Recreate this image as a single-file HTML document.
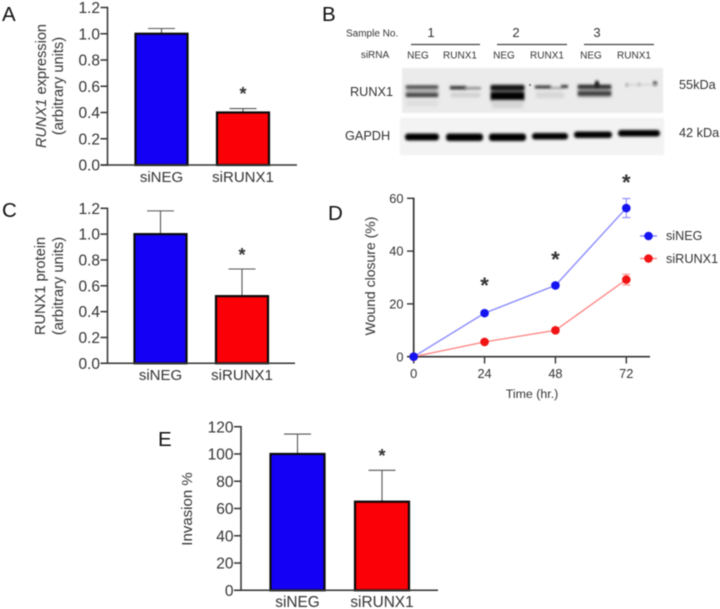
<!DOCTYPE html>
<html lang="en">
<head>
<meta charset="utf-8">
<title>RUNX1 knockdown figure</title>
<style>
html,body{margin:0;padding:0;background:#fff;width:720px;height:609px;overflow:hidden}
svg{display:block;filter:blur(0.45px)}
text{font-family:"Liberation Sans",Arial,sans-serif;fill:#333}
.letter{font-size:20.5px;fill:#111}
.blot-small{font-size:10px;fill:#333}
.blot-label{font-size:12.7px;fill:#333}
</style>
</head>
<body>
<svg id="figure" xmlns="http://www.w3.org/2000/svg" width="720" height="609" viewBox="0 0 720 609">
  <defs>
    <filter id="b0" x="-5%" y="-10%" width="110%" height="120%"><feGaussianBlur stdDeviation="0.9"/></filter>
    <filter id="b1" x="-20%" y="-100%" width="140%" height="300%"><feGaussianBlur stdDeviation="1.2"/></filter>
    <filter id="b2" x="-20%" y="-100%" width="140%" height="300%"><feGaussianBlur stdDeviation="1.7"/></filter>
  </defs>

  <text class="letter" x="2" y="21">A</text>
  <text class="letter" x="322" y="21">B</text>
  <text class="letter" x="2" y="217">C</text>
  <text class="letter" x="328" y="220">D</text>
  <text class="letter" x="158" y="446">E</text>

  <g>
    <text transform="translate(46 86) rotate(-90)" text-anchor="middle" font-size="14.6"><tspan font-style="italic">RUNX1</tspan> expression</text>
    <text transform="translate(63 86) rotate(-90)" text-anchor="middle" font-size="14.6">(arbitrary units)</text>
  </g>
  <g>
    <text transform="translate(45 286) rotate(-90)" text-anchor="middle" font-size="14.6">RUNX1 protein</text>
    <text transform="translate(63 286) rotate(-90)" text-anchor="middle" font-size="14.6">(arbitrary units)</text>
  </g>
  <text transform="translate(192 509) rotate(-90)" text-anchor="middle" font-size="15">Invasion %</text>
  <text transform="translate(375 276) rotate(-90)" text-anchor="middle" font-size="14">Wound closure (%)</text>
  <text x="532" y="398" text-anchor="middle" font-size="12.4">Time (hr.)</text>

  <!-- Panel B: western blot -->
  <g>
    <text class="blot-small" x="346" y="36.5" font-size="10.3">Sample No.</text>
    <text x="431" y="37" text-anchor="middle" font-size="13">1</text>
    <text x="516" y="37" text-anchor="middle" font-size="13">2</text>
    <text x="597" y="37" text-anchor="middle" font-size="13">3</text>
    <line x1="411" x2="480" y1="44.5" y2="44.5" stroke="#444" stroke-width="1.2"/>
    <line x1="497" x2="567" y1="44.5" y2="44.5" stroke="#444" stroke-width="1.2"/>
    <line x1="584" x2="654" y1="44.5" y2="44.5" stroke="#444" stroke-width="1.2"/>
    <text class="blot-small" x="375" y="58" text-anchor="middle">siRNA</text>
    <text class="blot-small" x="418" y="58.5" text-anchor="middle">NEG</text>
    <text class="blot-small" x="460" y="58.5" text-anchor="middle">RUNX1</text>
    <text class="blot-small" x="504" y="58.5" text-anchor="middle">NEG</text>
    <text class="blot-small" x="547" y="58.5" text-anchor="middle">RUNX1</text>
    <text class="blot-small" x="591" y="58.5" text-anchor="middle">NEG</text>
    <text class="blot-small" x="634" y="58.5" text-anchor="middle">RUNX1</text>
    <text class="blot-label" x="350" y="96">RUNX1</text>
    <text class="blot-label" x="345" y="140">GAPDH</text>
    <text class="blot-label" x="679" y="89">55kDa</text>
    <text class="blot-label" x="679" y="137">42 kDa</text>

    <g>
      <rect x="402" y="68" width="261" height="45" fill="#ebebeb" filter="url(#b0)"/>
      <rect x="406" y="86" width="32" height="11" fill="#b4b4b4" filter="url(#b2)"/>
      <rect x="406" y="85.5" width="32" height="3" fill="#444" filter="url(#b1)"/>
      <rect x="406" y="93" width="32" height="4" fill="#444" filter="url(#b1)"/>
      <rect x="406" y="100" width="32" height="6" fill="#dedede" filter="url(#b2)"/>
      <rect x="450" y="86" width="16" height="3.5" fill="#333" filter="url(#b1)"/>
      <rect x="464" y="87" width="17" height="2.5" fill="#888" filter="url(#b1)"/>
      <rect x="451" y="93" width="29" height="4" fill="#cacaca" filter="url(#b2)"/>
      <rect x="491" y="85" width="33" height="16" fill="#666" filter="url(#b2)"/>
      <rect x="491" y="85.5" width="33" height="4.5" fill="#0a0a0a" filter="url(#b1)"/>
      <rect x="491" y="92.5" width="33" height="7" fill="#000" filter="url(#b1)"/>
      <rect x="492" y="101" width="31" height="7" fill="#d4d4d4" filter="url(#b2)"/>
      <rect x="535" y="85.5" width="16" height="3" fill="#333" filter="url(#b1)"/>
      <rect x="550" y="87" width="12" height="2" fill="#999" filter="url(#b1)"/>
      <rect x="561" y="85" width="7" height="3" fill="#333" filter="url(#b1)"/>
      <circle cx="530" cy="85" r="1" fill="#666"/>
      <rect x="536" y="92" width="28" height="6" fill="#d6d6d6" filter="url(#b2)"/>
      <rect x="578" y="85" width="33" height="12" fill="#999" filter="url(#b2)"/>
      <rect x="578" y="85" width="33" height="3.5" fill="#2a2a2a" filter="url(#b1)"/>
      <rect x="578" y="91.5" width="33" height="4" fill="#3a3a3a" filter="url(#b1)"/>
      <ellipse cx="597" cy="84" rx="2.2" ry="3.5" fill="#111" filter="url(#b1)"/>
      <circle cx="627" cy="85" r="1.6" fill="#999" filter="url(#b1)"/>
      <circle cx="639" cy="84.5" r="1.6" fill="#aaa" filter="url(#b1)"/>
      <circle cx="655" cy="83.5" r="2.2" fill="#333" filter="url(#b1)"/>
      <rect x="625" y="84" width="33" height="1.5" fill="#d0d0d0" filter="url(#b1)"/>
    </g>
    <g>
      <rect x="400" y="118" width="264" height="37" fill="#f3f3f3" filter="url(#b0)"/>
      <rect x="405" y="133.5" width="34" height="7" rx="3" fill="#000" filter="url(#b1)"/>
      <rect x="446" y="133.5" width="37" height="7.5" rx="3" fill="#000" filter="url(#b1)"/>
      <rect x="489" y="133.5" width="37" height="7.5" rx="3" fill="#000" filter="url(#b1)"/>
      <rect x="532" y="133" width="36" height="6.5" rx="3" fill="#000" filter="url(#b1)"/>
      <rect x="574" y="131.5" width="38" height="6.5" rx="3" fill="#000" filter="url(#b1)"/>
      <rect x="618" y="130" width="42" height="6.5" rx="3" fill="#000" filter="url(#b1)"/>
    </g>
  </g>

  <!-- Panel D legend -->
  <g>
    <line x1="640" x2="657" y1="236" y2="236" stroke="#8a8aff" stroke-width="1.4"/>
    <circle cx="648.5" cy="236" r="4.3" fill="#1414f0"/>
    <text x="666" y="240" font-size="12.6">siNEG</text>
  </g>
  <g>
    <line x1="640" x2="657" y1="258.5" y2="258.5" stroke="#ff8a8a" stroke-width="1.4"/>
    <circle cx="648.5" cy="258.5" r="4.3" fill="#f01414"/>
    <text x="666" y="263" font-size="12.7">siRUNX1</text>
  </g>
</svg>

<script>
const barCategories = ['siNEG', 'siRUNX1'];

const expressionValues = [1.0, 0.4];
const expressionErrors = [0.04, 0.03];
const expressionTicks = [0, 0.2, 0.4, 0.6, 0.8, 1.0, 1.2];
const expressionTickLabels = ['0.0', '0.2', '0.4', '0.6', '0.8', '1.0', '1.2'];

const proteinValues = [1.0, 0.52];
const proteinErrors = [0.18, 0.21];
const proteinTicks = [0, 0.2, 0.4, 0.6, 0.8, 1.0, 1.2];
const proteinTickLabels = ['0.0', '0.2', '0.4', '0.6', '0.8', '1.0', '1.2'];

const invasionValues = [100, 65];
const invasionErrors = [14.6, 23];
const invasionTicks = [0, 20, 40, 60, 80, 100, 120];
const invasionTickLabels = ['0', '20', '40', '60', '80', '100', '120'];

const woundTimes = [0, 24, 48, 72];
const woundNeg = [0, 16.5, 27, 56.3];
const woundNegErrors = [0, 0.6, 0.8, 3.6];
const woundRunx = [0, 5.6, 10, 29.2];
const woundRunxErrors = [0, 0.5, 0.7, 2];
const woundYTicks = [0, 20, 40, 60];
const woundSignificantTimes = [24, 48, 72];
const woundStarHeights = [28.7, 38.5, 67.7];

const svgNS = 'http://www.w3.org/2000/svg';
const root = document.getElementById('figure');

function mk(tag, attrs, text) {
  const node = document.createElementNS(svgNS, tag);
  for (const key in attrs) node.setAttribute(key, attrs[key]);
  if (text !== undefined) node.textContent = text;
  root.appendChild(node);
  return node;
}

function linearScale(d0, d1, r0, r1) {
  return function (v) { return r0 + (v - d0) * (r1 - r0) / (d1 - d0); };
}

function drawBarPanel(panel, g, values, errors, ticks, tickLabels) {
  const y = linearScale(ticks[0], ticks[ticks.length - 1], g.y0, g.yTop);
  const fills = ['#1400f5', '#fb0006'];

  values.forEach(function (value, i) {
    const left = g.barLeft + i * g.barStep;
    const cx = left + g.barWidth / 2;
    const errTop = y(value + errors[i]);

    const stem = mk('line', { x1: cx, x2: cx, y1: y(value), y2: errTop, stroke: '#555', 'stroke-width': 1.1 });
    
    

    const cap = mk('line', { x1: cx - g.capHalf, x2: cx + g.capHalf, y1: errTop, y2: errTop, stroke: '#555', 'stroke-width': 1.1 });
    
    

    const bar = mk('rect', { x: left, y: y(value), width: g.barWidth, height: g.y0 - y(value), fill: fills[i], stroke: '#0a0a0a', 'stroke-width': 2.2 });
    
    

    const label = mk('text', { x: cx + g.labelShift, y: g.labelY, 'text-anchor': 'middle', 'font-size': g.labelSize }, barCategories[i]);
    
    
  });

  const yAxis = mk('line', { x1: g.axisX, x2: g.axisX, y1: y(ticks[ticks.length - 1]) - 0.7, y2: g.y0 + 0.7, stroke: '#333', 'stroke-width': 1.5 });
  
  

  const xAxis = mk('line', { x1: g.axisX - 7, x2: g.axisEnd, y1: g.y0, y2: g.y0, stroke: '#333', 'stroke-width': 1.5 });
  
  

  ticks.forEach(function (tick, i) {
    const mark = mk('line', { x1: g.axisX - 7, x2: g.axisX, y1: y(tick), y2: y(tick), stroke: '#333', 'stroke-width': 1.5 });
    
    

    const label = mk('text', { x: g.axisX - 7.5, y: y(tick) + g.tickSize * 0.36, 'text-anchor': 'end', 'font-size': g.tickSize }, tickLabels[i]);
    
    
  });

  const star = mk('text', { x: g.barLeft + g.barStep + g.barWidth / 2, y: y(values[1] + errors[1]) - g.starGap, 'text-anchor': 'middle', 'font-size': 18, 'font-weight': 'bold', fill: '#111' }, '*');
  
  
}

drawBarPanel('a', { y0: 165, yTop: 7.5, axisX: 107.5, axisEnd: 297, barLeft: 135.5, barWidth: 52, barStep: 81.5, capHalf: 13.5, labelY: 182, labelSize: 15, labelShift: 0, tickSize: 15.5, starGap: 8.5 }, expressionValues, expressionErrors, expressionTicks, expressionTickLabels);
drawBarPanel('c', { y0: 363.3, yTop: 208.3, axisX: 107.5, axisEnd: 295, barLeft: 134.5, barWidth: 52, barStep: 81.5, capHalf: 13.5, labelY: 380, labelSize: 15, labelShift: 0, tickSize: 15.5, starGap: 8.2 }, proteinValues, proteinErrors, proteinTicks, proteinTickLabels);
drawBarPanel('e', { y0: 590.3, yTop: 426.7, axisX: 241, axisEnd: 438, barLeft: 270.5, barWidth: 54, barStep: 84.5, capHalf: 13.5, labelY: 607, labelSize: 15.4, labelShift: 0, tickSize: 15.5, starGap: 8.2 }, invasionValues, invasionErrors, invasionTicks, invasionTickLabels);

function drawWoundPanel() {
  const x = linearScale(0, 72, 413.7, 626.3);
  const y = linearScale(0, 60, 356.7, 198.3);

  function drawSeries(name, values, errors, lineColor, dotColor) {
    const pts = woundTimes.map(function (t, i) { return x(t) + ',' + y(values[i]); }).join(' ');
    const line = mk('polyline', { points: pts, fill: 'none', stroke: lineColor, 'stroke-width': 1.4 });
    
    

    woundTimes.forEach(function (t, i) {
      const cx = x(t);
      const top = y(values[i] + errors[i]);
      const bottom = y(values[i] - errors[i]);
      const err = mk('path', { d: 'M' + (cx - 4) + ' ' + top + 'H' + (cx + 4) + 'M' + cx + ' ' + top + 'V' + bottom + 'M' + (cx - 4) + ' ' + bottom + 'H' + (cx + 4), fill: 'none', stroke: lineColor, 'stroke-width': 1.1 });
      
      

      const dot = mk('circle', { cx: cx, cy: y(values[i]), r: 4.3, fill: dotColor });
      
      
    });
  }

  const yAxis = mk('line', { x1: 413.7, x2: 413.7, y1: y(60) - 0.7, y2: 356.7, stroke: '#333', 'stroke-width': 1.7 });
  
  

  const xAxis = mk('line', { x1: 407, x2: 650, y1: 356.7, y2: 356.7, stroke: '#333', 'stroke-width': 1.7 });
  
  

  woundYTicks.forEach(function (tick) {
    const mark = mk('line', { x1: 407, x2: 413.7, y1: y(tick), y2: y(tick), stroke: '#333', 'stroke-width': 1.4 });
    
    

    const label = mk('text', { x: 403.5, y: y(tick) + 4.6, 'text-anchor': 'end', 'font-size': 12.8 }, String(tick));
    
    
  });

  woundTimes.forEach(function (t) {
    const mark = mk('line', { x1: x(t), x2: x(t), y1: 356.7, y2: 363.5, stroke: '#333', 'stroke-width': 1.4 });
    
    

    const label = mk('text', { x: x(t), y: 378, 'text-anchor': 'middle', 'font-size': 12.8 }, String(t));
    
    
  });

  drawSeries('sirunx1', woundRunx, woundRunxErrors, '#ff8a8a', '#f01414');
  drawSeries('sineg', woundNeg, woundNegErrors, '#8a8aff', '#1414f0');

  woundSignificantTimes.forEach(function (t, i) {
    const star = mk('text', { x: x(t), y: y(woundStarHeights[i]) + 12, 'text-anchor': 'middle', 'font-size': 22, 'font-weight': 'bold', fill: '#111' }, '*');
    
    
  });
}
drawWoundPanel();
</script>
</body>
</html>
